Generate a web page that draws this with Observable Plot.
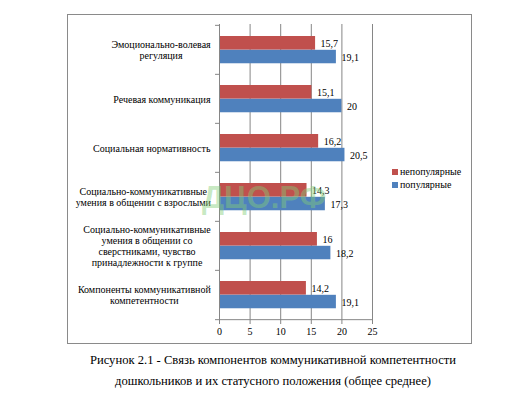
<!DOCTYPE html>
<html>
<head>
<meta charset="utf-8">
<script src="https://cdn.jsdelivr.net/npm/d3@7"></script>
<script src="https://cdn.jsdelivr.net/npm/@observablehq/plot@0.6"></script>
</head>
<body style="margin:0;padding:0;background:#fff;font-family:'Liberation Serif'">
<div id="wrap" style="position:relative;width:517px;height:399px;overflow:hidden;font-family:'Liberation Serif'">
  <div id="frame" style="position:absolute;left:67px;top:14px;width:403px;height:328px;border:1px solid #8a8a8a"></div>
  <div id="chart" style="position:absolute;left:0;top:0"></div>
  <div id="wm" style="position:absolute;left:202px;top:182px;font-family:'Liberation Sans';font-weight:bold;font-size:31px;line-height:31px;color:rgba(130,205,120,0.45);pointer-events:none">ДЦО.РФ</div>
  <div id="legend" style="position:absolute;left:392px;top:165px;font-family:'Liberation Serif';font-size:10px;line-height:13px;color:#000"></div>
  <div id="caption" style="position:absolute;left:0;width:546px;top:350px;text-align:center;font-family:'Liberation Serif';font-size:12.6px;line-height:21px;color:#000">Рисунок 2.1 - Связь компонентов коммуникативной компетентности<br>дошкольников и их статусного положения (общее среднее)</div>
</div>
<script>
const categories = [
  "Эмоционально-волевая\nрегуляция",
  "Речевая коммуникация",
  "Социальная нормативность",
  "Социально-коммуникативные\nумения в общении с взрослыми",
  "Социально-коммуникативные\nумения в общении со\nсверстниками, чувство\nпринадлежности к группе",
  "Компоненты коммуникативной\nкомпетентности"
];
const seriesNames = ["непопулярные", "популярные"];
const unpopular = [15.7, 15.1, 16.2, 14.3, 16, 14.2];
const popular = [19.1, 20, 20.5, 17.3, 18.2, 19.1];
const xTicks = [0, 5, 10, 15, 20, 25];
const colors = ["#C0504D", "#4F81BD"];

const redData = categories.map((c, i) => ({category: c, value: unpopular[i]}));
const blueData = categories.map((c, i) => ({category: c, value: popular[i]}));
const fmt = v => String(v).replace(".", ",");

const marginTop = 24, marginBottom = 25, height = 345;
const step = (height - marginTop - marginBottom) / categories.length;
const gray = "#868686";

const chart = Plot.plot({
  width: 517,
  height,
  marginTop,
  marginBottom,
  marginLeft: 219,
  marginRight: 145,
  style: {fontFamily: "Liberation Serif", fontSize: "10px", color: "#000", background: "transparent"},
  x: {domain: [0, 25]},
  y: {domain: categories, padding: 0},
  marks: [
    Plot.gridX(xTicks.slice(1), {stroke: gray, strokeOpacity: 1}),
    Plot.barX(redData, {x: "value", y: "category", fill: colors[0], insetTop: 11, insetBottom: step - 25}),
    Plot.barX(blueData, {x: "value", y: "category", fill: colors[1], insetTop: 24.8, insetBottom: step - 38.6}),
    Plot.text(redData, {x: "value", y: "category", text: d => fmt(d.value), dx: 5, dy: -6.5, textAnchor: "start", fill: "#000"}),
    Plot.text(blueData, {x: "value", y: "category", text: d => fmt(d.value), dx: 5, dy: 7.5, textAnchor: "start", fill: "#000"}),
    Plot.ruleX([0], {stroke: gray}),
    Plot.ruleY(categories, {y: d => d, x1: -0.65, x2: 0, dy: -step / 2, stroke: gray}),
    Plot.ruleY([categories[categories.length - 1]], {y: d => d, x1: -0.65, x2: 0, dy: step / 2, stroke: gray}),
    Plot.ruleY([categories[categories.length - 1]], {y: d => d, x1: 0, x2: 25, dy: step / 2, stroke: gray}),
    Plot.axisX(xTicks, {tickSize: 4, tickPadding: 3, stroke: gray, label: null, tickFormat: d => String(d)}),
    Plot.axisY({tickSize: 0, tickPadding: 9, lineHeight: 1.1, label: null})
  ]
});
document.getElementById("chart").append(chart);

// center multi-line category labels within their block (Excel style)
chart.querySelectorAll('g[aria-label="y-axis tick label"] text').forEach(t => {
  const tspans = t.querySelectorAll("tspan");
  if (!tspans.length) return;
  const bb = t.getBBox();
  const cx = bb.x + bb.width / 2;
  t.setAttribute("text-anchor", "middle");
  tspans.forEach(s => s.setAttribute("x", cx));
});

const legend = document.getElementById("legend");
seriesNames.forEach((name, i) => {
  const row = document.createElement("div");
  row.style.cssText = "display:flex;align-items:center;height:13px";
  const sw = document.createElement("span");
  sw.style.cssText = "width:6px;height:6px;margin-right:2px;background:" + colors[i];
  const label = document.createElement("span");
  label.textContent = name;
  row.append(sw, label);
  legend.append(row);
});
</script>
</body>
</html>
